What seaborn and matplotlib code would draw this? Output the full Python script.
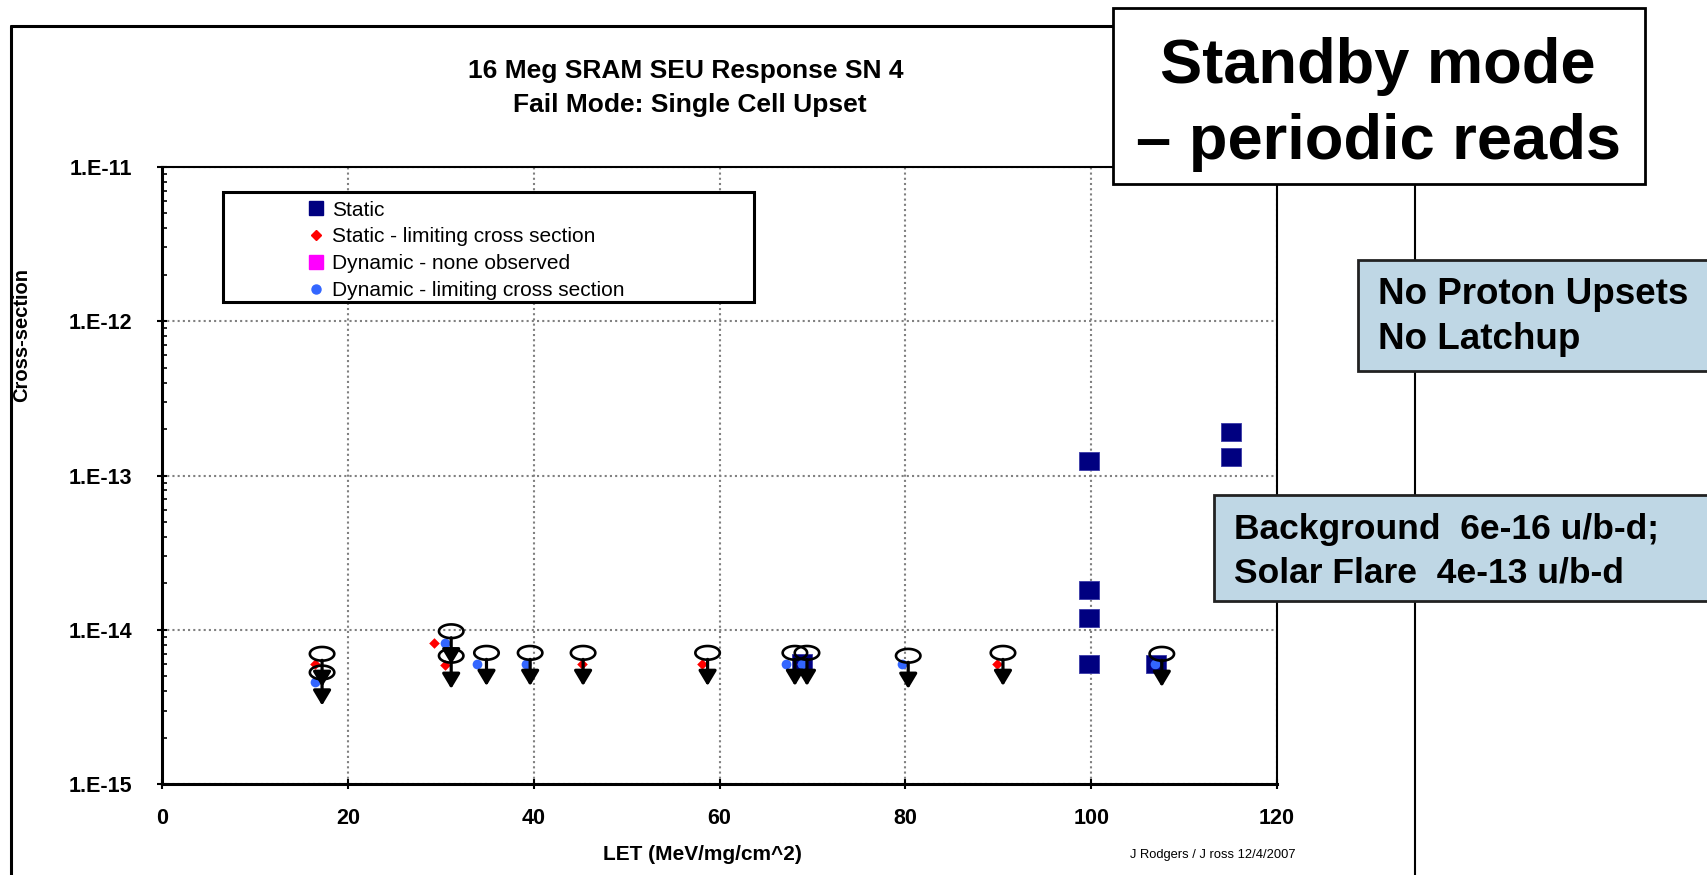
import numpy as np
import pandas as pd
import matplotlib
matplotlib.use("Agg")
import matplotlib.pyplot as plt
import seaborn as sns
from matplotlib.path import Path
from matplotlib.lines import Line2D
from matplotlib.patches import Rectangle
from matplotlib.transforms import offset_copy
from matplotlib.ticker import FixedLocator, FixedFormatter, LogLocator, NullFormatter

# ---------------- data ----------------
static_let = [68.9, 99.8, 99.8, 99.8, 99.8, 107.0, 115.1, 115.1]
static_xs = [6.1e-15, 6.0e-15, 1.2e-14, 1.8e-14, 1.25e-13, 6.0e-15, 1.9e-13, 1.32e-13]

static_lim_let = [16.4, 29.3, 30.4, 45.2, 58.1, 68.9, 89.9]
static_lim_xs = [6.0e-15, 8.2e-15, 5.9e-15, 6.0e-15, 6.0e-15, 6.0e-15, 6.0e-15]

dyn_lim_let = [16.4, 30.4, 33.9, 39.2, 67.1, 68.9, 79.6, 106.9]
dyn_lim_xs = [4.6e-15, 8.2e-15, 6.0e-15, 6.0e-15, 6.0e-15, 6.0e-15, 6.0e-15, 6.0e-15]

dyn_none_let = []
dyn_none_xs = []

# upper-limit markers (open ellipse with a downward arrow)
limit_let = [17.2, 17.2, 31.1, 31.1, 34.9, 39.6, 45.3, 58.7, 68.1, 69.4, 80.3, 90.5, 107.6]
limit_xs = [7.0e-15, 5.3e-15, 9.8e-15, 6.8e-15, 7.1e-15, 7.1e-15, 7.1e-15, 7.1e-15,
            7.1e-15, 7.1e-15, 6.8e-15, 7.1e-15, 7.0e-15]

x_ticks = [0, 20, 40, 60, 80, 100, 120]
x_tick_labels = ["0", "20", "40", "60", "80", "100", "120"]
y_ticks = [1e-15, 1e-14, 1e-13, 1e-12, 1e-11]
y_tick_labels = ["1.E-15", "1.E-14", "1.E-13", "1.E-12", "1.E-11"]

legend_labels = ["Static", "Static - limiting cross section",
                 "Dynamic - none observed", "Dynamic - limiting cross section"]

title_lines = ["16 Meg SRAM SEU Response SN 4", "Fail Mode: Single Cell Upset"]
x_label = "LET (MeV/mg/cm^2)"
y_label = "Cross-section"
credit = "J Rodgers / J ross 12/4/2007"
box1_text = "Standby mode\n– periodic reads"
box2_text = "No Proton Upsets\nNo Latchup"
box3_text = "Background  6e-16 u/b-d;\nSolar Flare  4e-13 u/b-d"

# ---------------- style ----------------
NAVY = "#000080"
RED = "#FF0000"
MAGENTA = "#FF00FF"
BLUE = "#3366FF"
BOXBLUE = "#BFD7E5"
GRID = "#808080"

sns.set_theme(style="white")
plt.rcParams["font.family"] = ["Liberation Sans", "DejaVu Sans"]

W, H = 1707, 875
fig = plt.figure(figsize=(W / 100, H / 100), dpi=100)
fig.patch.set_facecolor("white")


def fx(x):
    return x / W


def fy(y):
    return 1 - y / H


ax_l, ax_r, ax_t, ax_b = 162.3, 1277.0, 166.7, 784.3
ax = fig.add_axes([fx(ax_l), fy(ax_b), fx(ax_r - ax_l), (ax_b - ax_t) / H])
ax.set_facecolor("white")

ax.set_yscale("log")
ax.set_xlim(0, 120)
ax.set_ylim(1e-15, 1e-11)

# ---------------- data marks ----------------
rect_marker = Path([(-1, -0.87), (1, -0.87), (1, 0.87), (-1, 0.87), (-1, -0.87)], closed=True)
theta = np.linspace(0, 2 * np.pi, 73)
ellipse_marker = Path(np.c_[np.cos(theta), 0.56 * np.sin(theta)], closed=True)

df_static = pd.DataFrame({"LET": static_let, "XS": static_xs})
df_slim = pd.DataFrame({"LET": static_lim_let, "XS": static_lim_xs})
df_dlim = pd.DataFrame({"LET": dyn_lim_let, "XS": dyn_lim_xs})
df_limit = pd.DataFrame({"LET": limit_let, "XS": limit_xs})

sns.scatterplot(data=df_static, x="LET", y="XS", ax=ax, marker=rect_marker, s=14.2 ** 2,
                color=NAVY, edgecolor="#3A3AA8", linewidth=0.6, zorder=3, legend=False)
sns.scatterplot(data=df_slim, x="LET", y="XS", ax=ax, marker="D", s=5.4 ** 2,
                color=RED, linewidth=0, zorder=4, legend=False)
sns.scatterplot(data=df_dlim, x="LET", y="XS", ax=ax, marker="o", s=7.0 ** 2,
                color=BLUE, linewidth=0, zorder=5, legend=False)
sns.scatterplot(data=df_limit, x="LET", y="XS", ax=ax, marker=ellipse_marker, s=17.6 ** 2,
                facecolors="none", edgecolor="black", linewidth=1.9, zorder=7, legend=False)

start_tr = offset_copy(ax.transData, fig=fig, x=0, y=-6.5, units="dots")
tip_tr = offset_copy(ax.transData, fig=fig, x=0, y=-33.0, units="dots")
for lx, ly in zip(limit_let, limit_xs):
    ax.annotate("", xy=(lx, ly), xycoords=tip_tr, xytext=(lx, ly), textcoords=start_tr,
                arrowprops=dict(arrowstyle="-|>,head_length=0.45,head_width=0.27",
                                mutation_scale=20, lw=2.3, color="black",
                                shrinkA=0, shrinkB=0),
                zorder=6)

# ---------------- axes styling ----------------
ax.set_xticks(x_ticks)
ax.set_xticklabels(x_tick_labels)
ax.yaxis.set_major_locator(FixedLocator(y_ticks))
ax.yaxis.set_major_formatter(FixedFormatter(y_tick_labels))
ax.yaxis.set_minor_locator(LogLocator(base=10, subs=np.arange(2, 10), numticks=20))
ax.yaxis.set_minor_formatter(NullFormatter())

for lab in ax.get_xticklabels() + ax.get_yticklabels():
    lab.set_fontweight("bold")
    lab.set_fontsize(15.5)
    lab.set_color("black")

ax.tick_params(axis="y", which="major", direction="inout", length=7.5, width=1.5,
               pad=18.0, left=True, color="black")
ax.tick_params(axis="y", which="minor", direction="in", length=3.5, width=1.2,
               left=True, color="black")
ax.tick_params(axis="x", which="major", direction="inout", length=7.5, width=1.5,
               pad=13, bottom=True, color="black")
ax.tick_params(axis="x", which="minor", bottom=False)

ax.grid(True, which="major", axis="both", color=GRID, linestyle=(0, (1, 1.5)), linewidth=1.5)
ax.grid(False, which="minor")
ax.set_axisbelow(True)

for side, lw in [("left", 2.2), ("bottom", 2.2), ("top", 1.5), ("right", 1.5)]:
    ax.spines[side].set_visible(True)
    ax.spines[side].set_color("black")
    ax.spines[side].set_linewidth(lw)

ax.set_xlabel("")
ax.set_ylabel("")

# ---------------- legend ----------------
ax.add_patch(Rectangle((fx(223), fy(302)), fx(754 - 223), (302 - 192) / H,
                       transform=fig.transFigure, facecolor="white", edgecolor="black",
                       linewidth=2.2, zorder=8, clip_on=False))
handles = [
    Line2D([], [], marker="s", color=NAVY, linestyle="none", markersize=10.5),
    Line2D([], [], marker="D", color=RED, linestyle="none", markersize=5.0),
    Line2D([], [], marker="s", color=MAGENTA, linestyle="none", markersize=10.5),
    Line2D([], [], marker="o", color=BLUE, linestyle="none", markersize=6.5),
]
leg = ax.legend(handles, legend_labels, loc="upper left",
                bbox_to_anchor=(fx(305.6), fy(200.5)), bbox_transform=fig.transFigure,
                frameon=False, fontsize=15, borderpad=0, borderaxespad=0,
                handlelength=1.0, handletextpad=0.25, labelspacing=0.38)
leg.set_zorder(9)
for t in leg.get_texts():
    t.set_color("black")

# ---------------- figure texts ----------------
fig.text(fx(686), fy(71), title_lines[0], ha="center", va="center",
         fontsize=19, fontweight="bold", color="black")
fig.text(fx(690), fy(105), title_lines[1], ha="center", va="center",
         fontsize=19, fontweight="bold", color="black")
fig.text(fx(22), fy(335), y_label, rotation=90, ha="center", va="center",
         fontsize=14.5, fontweight="bold", color="black")
fig.text(fx(702), fy(855), x_label, ha="center", va="center",
         fontsize=15, fontweight="bold", color="black")
fig.text(fx(1213), fy(855), credit, ha="center", va="center",
         fontsize=9.3, color="black")

# ---------------- chart frame ----------------
fig.add_artist(Line2D([fx(11), fx(11)], [fy(26), fy(880)], color="black", lw=2.2, zorder=1))
fig.add_artist(Line2D([fx(11), fx(1415)], [fy(26), fy(26)], color="black", lw=2.2, zorder=1))
fig.add_artist(Line2D([fx(1415), fx(1415)], [fy(26), fy(880)], color="black", lw=1.5, zorder=1))

# ---------------- annotation boxes ----------------
fig.add_artist(Rectangle((fx(1112.6), fy(184)), fx(1644.5 - 1112.6), (184 - 7.6) / H,
                         transform=fig.transFigure, facecolor="white", edgecolor="black",
                         linewidth=2.0, zorder=3))
fig.text(fx(1378), fy(104.5), box1_text, ha="center", va="center", fontsize=45.5,
         fontweight="bold", color="black", linespacing=1.39, zorder=4)

fig.add_artist(Rectangle((fx(1358), fy(371)), fx(1730 - 1358), (371 - 260) / H,
                         transform=fig.transFigure, facecolor=BOXBLUE, edgecolor="#222222",
                         linewidth=2.0, zorder=3))
fig.text(fx(1378), fy(317), box2_text, ha="left", va="center", fontsize=26.5,
         fontweight="bold", color="black", linespacing=1.4, zorder=4)

fig.add_artist(Rectangle((fx(1213.5), fy(601)), fx(1730 - 1213.5), (601 - 495) / H,
                         transform=fig.transFigure, facecolor=BOXBLUE, edgecolor="#222222",
                         linewidth=2.0, zorder=3))
fig.text(fx(1233.6), fy(551), box3_text, ha="left", va="center", fontsize=25.5,
         fontweight="bold", color="black", linespacing=1.42, zorder=4)

fig.savefig("out.png", dpi=100, facecolor="white")
